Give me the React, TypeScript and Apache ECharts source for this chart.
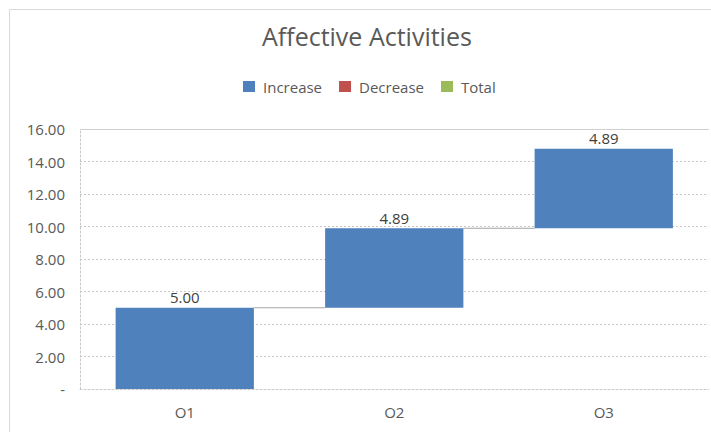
import React, { useEffect, useRef } from "react";
import * as echarts from "echarts";

const categories = ["O1", "O2", "O3"];
const increase = [5.0, 4.89, 4.89];
const decrease: (number | string)[] = ["-", "-", "-"];
const total: (number | string)[] = ["-", "-", "-"];
const yTicks = { min: 0, max: 16, interval: 2 };

// running base under each step of the waterfall
const base: number[] = [];
const cumulative: number[] = [];
increase.reduce((acc, v, i) => {
  base[i] = acc;
  cumulative[i] = acc + v;
  return acc + v;
}, 0);

const FONT = "'Open Sans', 'Noto Sans', sans-serif";
const BAR_FRACTION = 0.66;

export default function App() {
  const ref = useRef<HTMLDivElement>(null);

  useEffect(() => {
    if (!ref.current) return;
    const chart = echarts.init(ref.current, undefined, { renderer: "svg" });
    chart.setOption({
      animation: false,
      backgroundColor: "#ffffff",
      textStyle: { fontFamily: FONT },
      title: {
        text: "Affective Activities",
        left: 257,
        top: 18,
        textStyle: { fontFamily: FONT, fontSize: 25, fontWeight: "normal", color: "#595959" },
      },
      legend: {
        top: 74,
        left: 238,
        itemWidth: 12,
        itemHeight: 11,
        itemGap: 17,
        icon: "rect",
        textStyle: { fontFamily: FONT, fontSize: 15, color: "#595959", padding: [0, 0, 0, 3] },
        data: ["Increase", "Decrease", "Total"],
      },
      graphic: [
        {
          type: "rect",
          shape: { x: 9.5, y: 9.5, width: 760, height: 480 },
          style: { fill: "none", stroke: "#d9d9d9", lineWidth: 1 },
          silent: true,
        },
      ],
      grid: { left: 80, right: 2.5, top: 129, bottom: 43 },
      xAxis: {
        type: "category",
        data: categories,
        axisTick: { show: false },
        axisLine: { show: true, lineStyle: { color: "#c8c8c8", type: [2, 2] } },
        axisLabel: { margin: 15, fontSize: 15, color: "#595959", fontFamily: FONT },
      },
      yAxis: {
        type: "value",
        min: yTicks.min,
        max: yTicks.max,
        interval: yTicks.interval,
        axisLine: { show: true, lineStyle: { color: "#c8c8c8", type: [2, 2] } },
        axisTick: { show: false },
        splitLine: { lineStyle: { color: "#c8c8c8", type: [2, 2] } },
        axisLabel: {
          margin: 15,
          fontSize: 15,
          color: "#595959",
          fontFamily: FONT,
          formatter: (v: number) => (v === 0 ? "-" : v.toFixed(2)),
        },
      },
      series: [
        {
          name: "base",
          type: "bar",
          stack: "wf",
          data: base,
          itemStyle: { color: "transparent" },
          barCategoryGap: "34%",
          silent: true,
        },
        {
          name: "Increase",
          type: "bar",
          stack: "wf",
          data: increase,
          itemStyle: { color: "#4f81bd" },
          label: {
            show: true,
            position: "top",
            distance: 3,
            fontSize: 15,
            color: "#404040",
            fontFamily: FONT,
            formatter: (p: any) => Number(p.value).toFixed(2),
          },
          markLine: {
            silent: true,
            symbol: "none",
            label: { show: false },
            lineStyle: { color: "#d0d0d0", type: "solid", width: 1 },
            data: [{ yAxis: yTicks.max }],
          },
        },
        {
          name: "Decrease",
          type: "bar",
          stack: "wf",
          data: decrease,
          itemStyle: { color: "#c0504d" },
        },
        {
          name: "Total",
          type: "bar",
          stack: "wf",
          data: total,
          itemStyle: { color: "#9bbb59" },
        },
        {
          // connector lines from each step's top to the next bar
          name: "connector",
          type: "custom",
          silent: true,
          data: cumulative.slice(0, -1).map((v, i) => [i, v]),
          renderItem: (params: any, api: any) => {
            const i = api.value(0);
            const v = api.value(1);
            const p0 = api.coord([i, v]);
            const p1 = api.coord([i + 1, v]);
            const band = api.size([1, 0])[0];
            const half = (band * BAR_FRACTION) / 2;
            return {
              type: "line",
              shape: { x1: p0[0] + half, y1: p0[1], x2: p1[0] - half, y2: p1[1] },
              style: { stroke: "#a6a6a6", lineWidth: 1 },
            };
          },
        },
      ],
    });
    return () => chart.dispose();
  }, []);

  return (
    <div
      ref={ref}
      style={{ position: "fixed", left: 0, top: 0, width: 711, height: 432, overflow: "hidden" }}
    />
  );
}
